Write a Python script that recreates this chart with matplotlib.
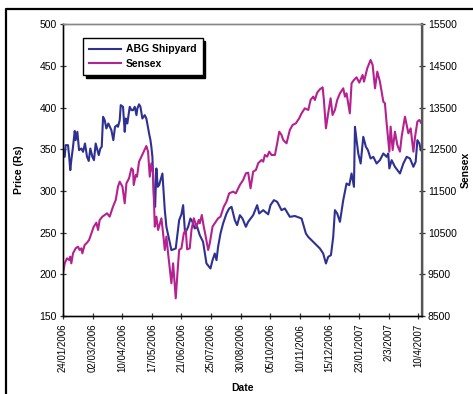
import matplotlib
matplotlib.use("Agg")
import matplotlib.pyplot as plt
from matplotlib.lines import Line2D
import numpy as np

plt.rcParams['font.family'] = ['Liberation Sans', 'DejaVu Sans']

# trading-day index and values
abg_day = [0, 1.5, 2.3, 4.4, 5.3, 6.4, 7.3, 8.8, 10.3, 11.1, 12.6, 14.1, 16.1, 17.6, 19.3, 21.1, 22.6,
           24, 25.8, 27.2, 28.7, 29.9, 31.4, 32.8, 34, 35.2, 36.6, 38.1, 39.8, 42.5, 44.2, 45.7, 47.5,
           48.3, 49.8, 50.7, 52.7, 54.2, 55.1, 56.5, 58.6, 60.1, 61.5, 63, 64.5, 65.3, 66.8, 68, 69.7,
           71.8, 73.2, 75.6, 76.8, 77.6, 78.5, 80, 80.9, 82, 83.2, 84.4, 87.3, 89.4, 90.8, 95.2, 99,
           102, 104, 105.5, 107.2, 109.9, 111.9, 113.7, 115.7, 117.8, 120.1, 123, 126, 129.5, 131.3,
           133.3, 134.8, 136.2, 138.3, 140.6, 143.6, 145.9, 148, 150.9, 152.9, 155.3, 157.6, 160.6,
           162.6, 167, 170.5, 172.3, 175.8, 180.2, 182.2, 185.2, 188.1, 191.9, 194.8, 199.2, 203.6,
           209.5, 213.3, 215.3, 219.7, 225.6, 228.5, 230.9, 232.9, 235.3, 237.3, 238.8, 240.8, 243.2,
           246.1, 249, 251.4, 253.4, 255.5, 256.4, 257.8, 259.3, 261.4, 263.7, 266, 267.8, 270.1,
           272.5, 275.4, 278.3, 281.3, 284.2, 285.6, 286.6, 288.6, 291.5, 295.9, 298.9, 301.8, 304.7,
           307.7, 309.7, 311.2, 313, 314.2]
abg_price = [351, 341, 355, 355, 343, 325, 337, 353, 372, 361, 371, 349, 351, 347, 357, 341, 336,
             351, 341, 337, 357, 351, 343, 351, 353, 389, 385, 375, 381, 373, 361, 377, 379,
             377, 385, 403, 401, 371, 387, 381, 401, 397, 397, 401, 391, 399, 404, 401, 387,
             391, 387, 369, 361, 353, 341, 289, 281, 327, 305, 307, 321, 277, 257, 229, 231,
             265, 272, 283, 249, 257, 267, 263, 255, 257, 247, 239, 213, 207, 217,
             225, 217, 233, 249, 261, 273, 279, 281, 265, 259, 271, 267, 257,
             263, 271, 283, 273, 277, 272, 283, 289, 287, 277, 279, 269, 270,
             267, 249, 245, 239, 231, 225, 213, 221, 223, 245, 277, 273, 263,
             289, 309, 307, 321, 305, 377, 361, 345, 333, 365, 353, 349, 339,
             341, 333, 337, 345, 341, 345, 327, 337, 329, 321, 333, 341, 339,
             329, 335, 361, 357, 349]

sensex_day = [0, 1.5, 3.5, 5.3, 6.4, 7.3, 8.8, 11.1, 13.2, 14.6, 16.1, 17, 19, 21.1, 22.9, 24.9, 27,
              29.3, 30.8, 32.2, 34.6, 36.6, 38.7, 41, 43.9, 46.3, 48.3, 49.8, 52.2, 54.2, 55.7, 58,
              60.1, 61.5, 62.1, 63.9, 65, 66.8, 68.9, 70.9, 73.2, 74.7, 76.2, 77.6, 79.1, 80.6, 82,
              83.5, 86.4, 87.9, 89.4, 90.8, 92.3, 95.2, 96.7, 99, 100.5, 102, 104, 106.1, 107.8, 109,
              111.3, 112.8, 114.9, 117.2, 119.2, 120.1, 121.9, 123.6, 124.8, 127.5, 128.9, 131.3,
              133.3, 136.2, 138.3, 141.2, 143.6, 145.9, 149.4, 151.8, 155.3, 158.2, 160.6, 162.6,
              164.7, 167, 169.4, 171.4, 174.3, 175.8, 177.3, 179.3, 181.1, 183.1, 186.1, 188.1,
              189.9, 191.9, 193.4, 196.3, 199.2, 201.6, 204.5, 207.4, 209.5, 212.4, 215.4, 217.4,
              219.7, 221.2, 223.2, 225.6, 228, 229.1, 230.9, 232.9, 235, 236.7, 238.8, 240.8, 243.2,
              246.1, 247.6, 249, 251.9, 253.4, 255.5, 257.8, 260.2, 263.1, 264.3, 267.2, 270.1,
              271.9, 274, 276, 278.3, 281.3, 282.7, 284.2, 286.6, 287.7, 289.5, 291.5, 293.6, 295.9,
              297.4, 300.3, 303.3, 305.3, 307.7, 309.2, 311.2, 313, 314.4]
sensex_value = [9524, 9764, 9884, 9844, 9924, 9764, 10004, 10124, 10164, 10084, 10124, 10004, 10204,
                10260, 10324, 10484, 10644, 10740, 10564, 10804, 10884, 10924, 10964, 10884, 11124,
                11284, 11604, 11724, 11604, 11204, 11684, 11804, 12044, 12004, 11644, 11884, 11844,
                12204, 12324, 12444, 12580, 12444, 11844, 12164, 11924, 10644, 10884, 10564, 10844,
                10484, 10084, 10404, 10004, 9284, 9764, 8924, 9524, 10084, 10124, 10484, 10564, 10100,
                10124, 10564, 10844, 10644, 10804, 10724, 10924, 10644, 10484, 10084, 10244, 10644,
                10724, 10844, 10884, 11124, 11244, 11444, 11484, 11444, 11644, 11764, 11924, 11940,
                11564, 11964, 12004, 12164, 12244, 12204, 12364, 12324, 12444, 12364, 12364, 12644,
                12924, 12844, 12724, 12644, 12964, 13084, 13124, 13244, 13364, 13484, 13444, 13684,
                13764, 13684, 13860, 13940, 13988, 13684, 13004, 13364, 13724, 13324, 13444, 13684,
                13844, 13964, 13764, 13844, 13364, 14084, 14164, 14228, 14100, 14284, 14124, 14444,
                14644, 14524, 13964, 14364, 14124, 13644, 13604, 13124, 12444, 13044, 12484, 12924,
                12604, 12444, 12804, 13284, 12884, 13004, 12444, 12804, 13164, 13204, 13140]

tick_days = [0, 26, 52, 78, 104, 130, 156, 182, 208, 234, 260, 286, 312]
tick_labels = ['24/01/2006', '02/03/2006', '10/04/2006', '17/05/2006', '21/06/2006', '25/07/2006',
               '30/08/2006', '05/10/2006', '10/11/2006', '15/12/2006', '23/01/2007', '2/3/2007',
               '10/4/2007']

blue = '#2E3192'
magenta = '#B5228F'

fig = plt.figure(figsize=(4.73, 3.94), dpi=100)
ax = fig.add_axes([63/473, 78/394, 358.7/473, 291.7/394])
ax2 = ax.twinx()

l1, = ax.plot(abg_day, abg_price, color=blue, lw=1.5, label='ABG Shipyard')
l2, = ax2.plot(sensex_day, sensex_value, color=magenta, lw=1.5, label='Sensex')

ax.set_xlim(0, 315)
ax.set_ylim(150, 500)
ax.set_yticks(np.arange(150, 501, 50))
ax2.set_ylim(8500, 15500)
ax2.set_yticks(np.arange(8500, 15501, 1000))
ax.set_xticks(tick_days)
ax.set_xticklabels(tick_labels, rotation=90, fontsize=7)

for a in (ax, ax2):
    a.tick_params(axis='both', direction='inout', length=5, width=0.9, labelsize=7.5, color='#333333', pad=2)
    for s in a.spines.values():
        s.set_linewidth(1.0)
ax.spines['left'].set_color('#444444')
ax.spines['bottom'].set_color('#444444')
ax2.spines['right'].set_color('#555555')
ax2.spines['right'].set_linewidth(1.6)
ax.spines['top'].set_color('#888888')
ax2.spines['top'].set_color('#888888')
ax.tick_params(axis='x', labelsize=7, pad=3)

ax.set_ylabel('Price (Rs)', fontsize=7.5, fontweight='bold')
ax.yaxis.set_label_coords(-0.108, 0.5)
ax2.set_ylabel('Sensex', fontsize=7.5, fontweight='bold')
ax2.yaxis.set_label_coords(1.108, 0.5)
ax.set_xlabel('Date', fontsize=7.5, fontweight='bold')
ax.xaxis.set_label_coords(0.5, -0.228)

leg = ax.legend(handles=[l1, l2], loc='upper left', bbox_to_anchor=(0.056, 0.953),
                borderaxespad=0, fancybox=False, shadow={'color': 'black', 'alpha': 1},
                frameon=True, prop={'weight': 'bold', 'size': 7.5}, handlelength=3.0,
                handletextpad=0.5, borderpad=0.6, labelspacing=0.45)
leg.get_frame().set_edgecolor('black')
leg.get_frame().set_linewidth(1.0)
leg.get_frame().set_alpha(1)

# outer chart border (left and top)
fig.add_artist(Line2D([6/473, 6/473, 1.0], [0.0, 1 - 9/394, 1 - 9/394],
                      transform=fig.transFigure, color='black', lw=1.6))

fig.savefig('out.png', dpi=100)
